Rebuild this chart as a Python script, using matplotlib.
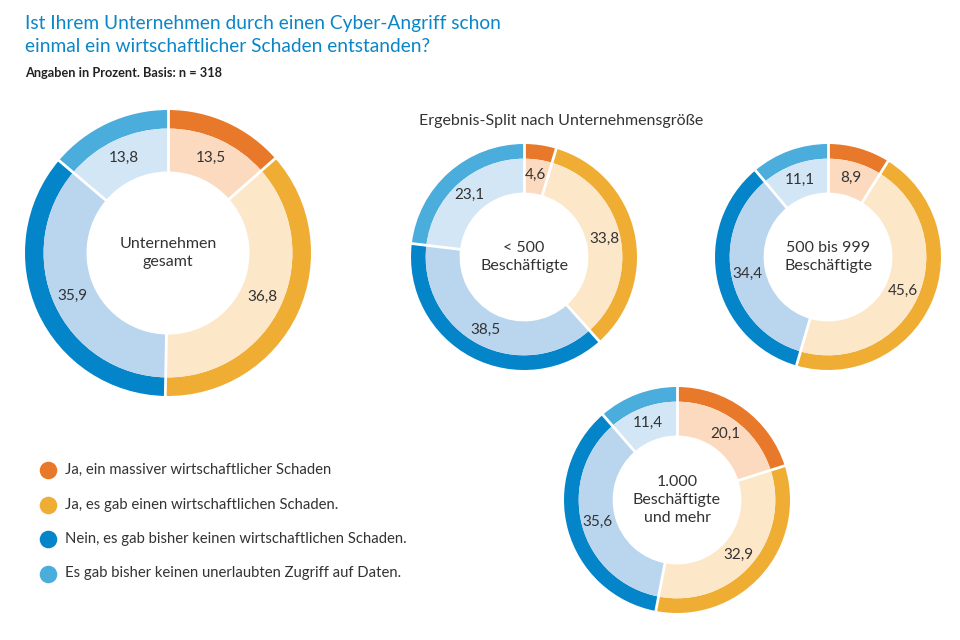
import numpy as np
import matplotlib
matplotlib.use("Agg")
import matplotlib.pyplot as plt

plt.rcParams['font.family'] = ['Lato', 'DejaVu Sans']

# data
legend_labels = ["Ja, ein massiver wirtschaftlicher Schaden",
                 "Ja, es gab einen wirtschaftlichen Schaden.",
                 "Nein, es gab bisher keinen wirtschaftlichen Schaden.",
                 "Es gab bisher keinen unerlaubten Zugriff auf Daten."]
total = [13.5, 36.8, 35.9, 13.8]
lt500 = [4.6, 33.8, 38.5, 23.1]
mid = [8.9, 45.6, 34.4, 11.1]
gt1000 = [20.1, 32.9, 35.6, 11.4]
center_titles = ["Unternehmen\ngesamt", "< 500\nBeschäftigte",
                 "500 bis 999\nBeschäftigte", "1.000\nBeschäftigte\nund mehr"]

dark = ['#E8792A', '#EFAE33', '#0585C9', '#4BADDC']
light = ['#FCDAC0', '#FCE7C9', '#BAD6EE', '#D3E6F5']
txt = '#333333'

W, H = 960, 640
fig = plt.figure(figsize=(9.6, 6.4), dpi=100)
ax = fig.add_axes([0, 0, 1, 1])


def donut(vals, cx, cy, r, label, fs=11):
    c = (cx, H - cy)
    ax.pie(vals, radius=r, center=c, colors=dark, startangle=90, counterclock=False,
           wedgeprops=dict(width=0.13 * r, linewidth=0), frame=True)
    ax.pie(vals, radius=0.87 * r, center=c, colors=light, startangle=90, counterclock=False,
           wedgeprops=dict(width=0.30 * r, linewidth=0), frame=True)
    edges = np.concatenate([[0], np.cumsum(vals)])
    for e in edges[:-1]:
        a = np.deg2rad(90 - e * 3.6)
        ax.plot([c[0] + 0.56 * r * np.cos(a), c[0] + 1.01 * r * np.cos(a)],
                [c[1] + 0.56 * r * np.sin(a), c[1] + 1.01 * r * np.sin(a)],
                color='white', lw=2, solid_capstyle='butt')
    for i, v in enumerate(vals):
        a = np.deg2rad(90 - (edges[i] + v / 2) * 3.6)
        ax.text(c[0] + 0.73 * r * np.cos(a), c[1] + 0.73 * r * np.sin(a),
                ("%.1f" % v).replace('.', ','), ha='center', va='center',
                fontsize=fs, color=txt)
    ax.text(c[0], c[1], label, ha='center', va='center', fontsize=fs + 0.5,
            color=txt, linespacing=1.35)


donut(total, 168, 253, 143, center_titles[0])
donut(lt500, 524, 257, 113, center_titles[1])
donut(mid, 828, 257, 113, center_titles[2])
donut(gt1000, 677, 500, 113, center_titles[3])

ax.set_xlim(0, W)
ax.set_ylim(0, H)
ax.set_aspect('equal')
ax.axis('off')

# titles
fig.text(25 / W, 1 - 15 / H, "Ist Ihrem Unternehmen durch einen Cyber-Angriff schon\neinmal ein wirtschaftlicher Schaden entstanden?",
         ha='left', va='top', fontsize=13.8, color='#0A86C8', linespacing=1.45)
fig.text(25 / W, 1 - 73 / H, "Angaben in Prozent. Basis: n = 318", ha='left', va='center',
         fontsize=9.2, fontweight='bold', color='#222222')
fig.text(561 / W, 1 - 121 / H, "Ergebnis-Split nach Unternehmensgröße", ha='center', va='center',
         fontsize=11.5, color=txt)

# legend
for i, lab in enumerate(legend_labels):
    y = H - (470 + i * 34.5)
    ax.scatter([48], [y], s=160, color=dark[i], linewidths=0)
    ax.text(65, y, lab, ha='left', va='center', fontsize=10.75, color=txt)

fig.savefig("out.png", dpi=100, facecolor='white')
